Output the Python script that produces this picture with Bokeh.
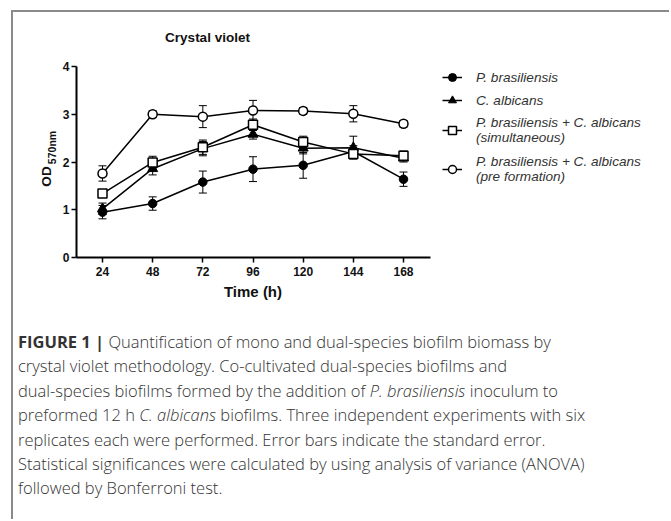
import math
from bokeh.plotting import figure
from bokeh.models import (ColumnDataSource, Whisker, TeeHead, Label, Legend,
                          LegendItem, Div, Range1d, FixedTicker)
from bokeh.layouts import column
from bokeh.embed import file_html
from bokeh.resources import INLINE

# ---------------- data ----------------
times = [24, 48, 72, 96, 120, 144, 168]
x_ticks = [24, 48, 72, 96, 120, 144, 168]
y_ticks = [0, 1, 2, 3, 4]

pb_mean = [0.95, 1.13, 1.58, 1.85, 1.93, 2.22, 1.64]
pb_err = [0.14, 0.14, 0.23, 0.26, 0.27, 0.12, 0.15]

ca_mean = [1.02, 1.86, 2.28, 2.58, 2.29, 2.30, 2.08]
ca_err = [0.12, 0.13, 0.15, 0.10, 0.12, 0.24, 0.08]

sim_mean = [1.34, 1.99, 2.31, 2.78, 2.42, 2.17, 2.13]
sim_err = [0.06, 0.13, 0.15, 0.12, 0.12, 0.08, 0.10]

pre_mean = [1.76, 3.00, 2.95, 3.08, 3.07, 3.01, 2.80]
pre_err = [0.16, 0.07, 0.23, 0.21, 0.07, 0.17, 0.07]

series_labels = ["P. brasiliensis", "C. albicans",
                 "P. brasiliensis + C. albicans\n(simultaneous)",
                 "P. brasiliensis + C. albicans\n(pre formation)"]

# ---------------- geometry (page px) ----------------
ORIGIN_X, ORIGIN_Y = 13, 12          # canvas origin on page
FIG_W, FIG_H = 656, 320
MIN_BOTTOM = 30
F_LEFT, F_TOP = 33, 12               # frame on page (right = canvas edge)
F_BOTTOM = ORIGIN_Y + FIG_H - MIN_BOTTOM
F_RIGHT = ORIGIN_X + FIG_W
AXIS_X_PX = 76                       # page x of the y axis line
AXIS_Y_PX = 257                      # page y of the x axis line (value 0)
Y_TOP_PX = 66                        # page y of value 4

px_per_h = (403 - 102) / 144.0
x0 = 24 - (102 - F_LEFT) / px_per_h
x1 = x0 + (F_RIGHT - F_LEFT) / px_per_h
x_axis_start = 24 - (102 - AXIS_X_PX) / px_per_h
x_axis_end = 24 + (430 - 102) / px_per_h
px_per_unit = (AXIS_Y_PX - Y_TOP_PX) / 4.0
y0 = -(F_BOTTOM - AXIS_Y_PX) / px_per_unit
y1 = (AXIS_Y_PX - F_TOP) / px_per_unit

p = figure(width=FIG_W, height=FIG_H, output_backend="svg", toolbar_location=None,
           x_range=Range1d(x0, x1), y_range=Range1d(y0, y1),
           min_border_left=F_LEFT - ORIGIN_X, min_border_right=0,
           min_border_top=0, min_border_bottom=MIN_BOTTOM)
p.outline_line_color = None
p.grid.visible = False
p.background_fill_color = "white"
p.border_fill_color = "white"

FONT = "Liberation Sans"
for ax in (p.xaxis[0], p.yaxis[0]):
    ax.axis_line_width = 2
    ax.axis_line_color = "black"
    ax.major_tick_line_width = 1.5
    ax.major_tick_line_color = "black"
    ax.major_tick_in = 0
    ax.major_tick_out = 5
    ax.minor_tick_line_color = None
    ax.major_label_text_font = FONT
    ax.major_label_text_font_style = "bold"
    ax.major_label_text_font_size = "12px"
    ax.major_label_text_color = "#111111"

p.xaxis[0].ticker = FixedTicker(ticks=x_ticks)
p.yaxis[0].ticker = FixedTicker(ticks=y_ticks)
p.xaxis[0].bounds = (x_axis_start, x_axis_end)
p.yaxis[0].bounds = (0, 4)
p.xaxis[0].fixed_location = 0
p.yaxis[0].fixed_location = x_axis_start
p.yaxis[0].major_label_standoff = 2
p.xaxis[0].major_label_standoff = 4


def sx(page_x):
    return page_x - F_LEFT


def sy(page_y):
    return F_BOTTOM - page_y


# ---------------- series ----------------
means = [pb_mean, ca_mean, sim_mean, pre_mean]
errs = [pb_err, ca_err, sim_err, pre_err]
sources = []
for m, e in zip(means, errs):
    sources.append(ColumnDataSource(dict(
        x=times, y=m,
        lo=[a - b for a, b in zip(m, e)],
        hi=[a + b for a, b in zip(m, e)])))

for src in sources:
    w = Whisker(source=src, base="x", lower="lo", upper="hi",
                line_color="black", line_width=1,
                upper_head=TeeHead(size=8, line_width=1, line_color="black"),
                lower_head=TeeHead(size=8, line_width=1, line_color="black"))
    p.add_layout(w)

lines = []
for src in sources:
    lines.append(p.line("x", "y", source=src, line_color="black", line_width=1.5))

marker_specs = [
    dict(marker="circle", size=8.5, fill_color="black", line_color="black", line_width=1),
    dict(marker="triangle", size=10, fill_color="black", line_color="black", line_width=1),
    dict(marker="square", size=9, fill_color="white", line_color="black", line_width=1.5),
    dict(marker="circle", size=9, fill_color="white", line_color="black", line_width=1.5),
]
scatters = []
for src, spec in zip(sources, marker_specs):
    scatters.append(p.scatter("x", "y", source=src, **spec))

# ---------------- legend (one per item for exact placement) ----------------
legend_centers = [77, 100, 129.5, 168.5]
legend_heights = [20, 20, 32, 32]
for lab, ln, sc, cy, hh in zip(series_labels, lines, scatters, legend_centers, legend_heights):
    leg = Legend(items=[LegendItem(label=lab, renderers=[ln, sc])],
                 location=(sx(442), sy(cy + hh / 2.0)),
                 padding=0, margin=0, spacing=0,
                 glyph_width=20, glyph_height=hh, label_height=hh,
                 label_standoff=14,
                 label_text_font=FONT, label_text_font_style="italic",
                 label_text_font_size="13.6px", label_text_color="#333333",
                 label_text_line_height=1.15,
                 background_fill_alpha=0, border_line_alpha=0)
    p.add_layout(leg)

# ---------------- title & axis labels ----------------
def text_label(text, px, py, size, angle=0.0):
    return Label(x=sx(px), y=sy(py), x_units="screen", y_units="screen",
                 text=text, angle=angle, text_font=FONT, text_font_style="bold",
                 text_font_size=size, text_align="center", text_baseline="middle",
                 text_color="#111111")


p.add_layout(text_label("Crystal violet", 207, 37, "13.5px"))
p.add_layout(text_label("OD", 45.5, 176, "13.5px", math.pi / 2))
p.add_layout(text_label("570nm", 51.5, 147, "10.5px", math.pi / 2))
p.add_layout(text_label("Time (h)", 252.5, 291, "15px"))

# ---------------- caption ----------------
caption_lines = [
    '<span style="font-weight: 700;">FIGURE 1 |</span> Quantification of mono and dual-species biofilm biomass by',
    "crystal violet methodology. Co-cultivated dual-species biofilms and",
    "dual-species biofilms formed by the addition of <i>P. brasiliensis</i> inoculum to",
    "preformed 12 h <i>C. albicans</i> biofilms. Three independent experiments with six",
    "replicates each were performed. Error bars indicate the standard error.",
    "Statistical significances were calculated by using analysis of variance (ANOVA)",
    "followed by Bonferroni test.",
]
caption_html = ('<div style="font-family: \'Open Sans\', sans-serif; font-size: 16.5px; '
                'font-weight: 300; line-height: 24.4px; color: #333333; white-space: nowrap; '
                'margin-top: -2px; padding-left: 5px;">'
                + "<br>".join(caption_lines) + "</div>")
cap = Div(text=caption_html, width=FIG_W, height=187, margin=0)

layout = column(p, cap, margin=(10, 0, 0, 11),
                styles={"border-top": "2px solid #8a8a8a",
                        "border-left": "2px solid #8a8a8a"})

html = file_html(layout, INLINE)
open("out.html", "w").write(html)
